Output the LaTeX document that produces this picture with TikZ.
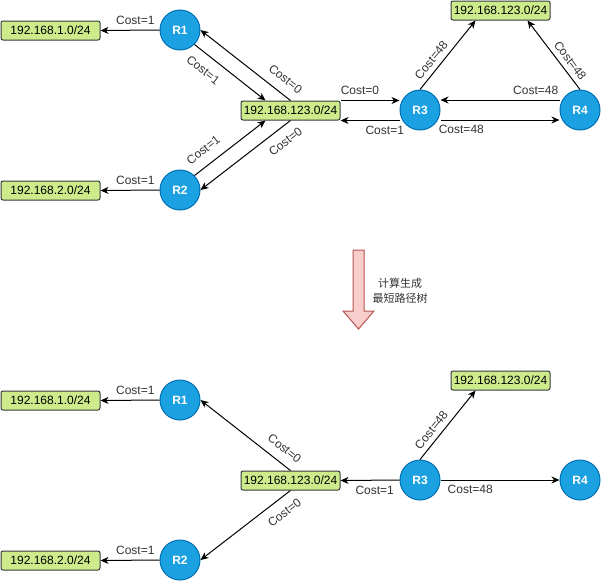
\documentclass[tikz,border=0pt]{standalone}
\usepackage{fontspec}
\setmainfont{Liberation Sans}
\newfontfamily\cjkfont{Noto Sans CJK SC}
\usetikzlibrary{arrows.meta,positioning}
\definecolor{routerfill}{HTML}{1BA1E2}
\definecolor{routerline}{HTML}{006EAF}
\definecolor{netfill}{HTML}{CDEB8B}
\definecolor{netline}{HTML}{36393D}
\definecolor{textgray}{HTML}{333333}
\definecolor{flowfill}{HTML}{F8CECC}
\definecolor{flowline}{HTML}{B85450}
\tikzset{
  router/.style={
    circle,
    draw=routerline,
    fill=routerfill,
    line width=1pt,
    minimum size=40pt,
    inner sep=0pt,
    text=white,
    font=\fontsize{12}{14}\selectfont\bfseries
  },
  subnet/.style={
    draw=netline,
    rounded corners=2pt,
    fill=netfill,
    line width=1pt,
    minimum width=99pt,
    minimum height=19pt,
    inner sep=0pt,
    font=\fontsize{12}{14}\selectfont
  },
  link/.style={
    -{Stealth[length=8pt,width=7pt,inset=2.5pt]},
    line width=1pt,
    draw=black
  },
  cost/.style={
    font=\fontsize{12}{14}\selectfont,
    text=textgray,
    inner sep=1pt
  }
}

\begin{document}
\begin{tikzpicture}[x=1pt,y=-1pt]
  \useasboundingbox (0,0) rectangle (601,581);

  \node[subnet] (netA) at (50.5,30.5) {192.168.1.0/24};
  \node[subnet] (netB) at (50.5,190.5) {192.168.2.0/24};
  \node[subnet] (mid) at (290.5,110.5) {192.168.123.0/24};
  \node[subnet] (top) at (500.5,10.5) {192.168.123.0/24};
  \node[router] (rA) at (180,30) {R1};
  \node[router] (rB) at (180,190) {R2};
  \node[router] (rC) at (420,110) {R3};
  \node[router] (rD) at (580,110) {R4};

  \draw[link] (rA.west) -- node[cost, pos=0.41, above=4pt] {Cost=1} (netA.east);
  \draw[link] (rB.west) -- node[cost, pos=0.41, above=4pt] {Cost=1} (netB.east);
  \draw[link] (rA.south east) -- node[cost, pos=0.25, sloped, below=9pt] {Cost=1} ([xshift=-25pt]mid.north);
  \draw[link] (mid.north) -- node[cost, pos=0.15, sloped, above=8pt] {Cost=0} (rA.east);
  \draw[link] (rB.north east) -- node[cost, pos=0.25, sloped, above=9pt] {Cost=1} ([xshift=-25pt]mid.south);
  \draw[link] (mid.south) -- node[cost, pos=0.15, sloped, below=8pt] {Cost=0} (rB.east);
  \draw[link] (mid.north east) -- node[cost, pos=0.33, above=4pt] {Cost=0} (mid.north east -| rC.west);
  \draw[link] (mid.south east -| rC.west) -- node[cost, pos=0.25, below=4pt] {Cost=1} (mid.south east);
  \draw[link] ([yshift=10pt]rD.west) -- node[cost, pos=0.2, above=4pt] {Cost=48} ([yshift=10pt]rC.east);
  \draw[link] ([yshift=-10pt]rC.east) -- node[cost, pos=0.175, below=4pt] {Cost=48} ([yshift=-10pt]rD.west);
  \draw[link] (rC.north) -- node[cost, pos=0.34, sloped, above=4pt] {Cost=48} ([xshift=-25pt]top.south);
  \draw[link] (rD.north) -- node[cost, pos=0.335, sloped, above=4pt] {Cost=48} ([xshift=27pt]top.south);

  \draw[fill=flowfill, draw=flowline, line width=1pt] (353,250) -- (364,250) -- (364,311) -- (374,311)
    -- (358.5,329) -- (343,311) -- (353,311) -- cycle;
  \node[align=center, text=textgray, font=\cjkfont\fontsize{11}{15}\selectfont] (note) at (400,290.5) {计算生成\\最短路径树};

  \node[subnet] (netA2) at (50.5,400.5) {192.168.1.0/24};
  \node[subnet] (netB2) at (50.5,560.5) {192.168.2.0/24};
  \node[subnet] (mid2) at (290.5,480.5) {192.168.123.0/24};
  \node[subnet] (top2) at (500.5,380.5) {192.168.123.0/24};
  \node[router] (rA2) at (180,400) {R1};
  \node[router] (rB2) at (180,560) {R2};
  \node[router] (rC2) at (420,480) {R3};
  \node[router] (rD2) at (580,480) {R4};

  \draw[link] (rA2.west) -- node[cost, pos=0.41, above=4pt] {Cost=1} (netA2.east);
  \draw[link] (rB2.west) -- node[cost, pos=0.41, above=4pt] {Cost=1} (netB2.east);
  \draw[link] (mid2.north) -- node[cost, pos=0.16, sloped, above=8pt] {Cost=0} (rA2.east);
  \draw[link] (mid2.south) -- node[cost, pos=0.16, sloped, below=8pt] {Cost=0} (rB2.east);
  \draw[link] (rC2.west) -- node[cost, pos=0.42, below=4pt] {Cost=1} (mid2.east);
  \draw[link] (rC2.east) -- node[cost, pos=0.25, below=4pt] {Cost=48} (rD2.west);
  \draw[link] (rC2.north) -- node[cost, pos=0.34, sloped, above=4pt] {Cost=48} ([xshift=-25pt]top2.south);
\end{tikzpicture}
\end{document}
